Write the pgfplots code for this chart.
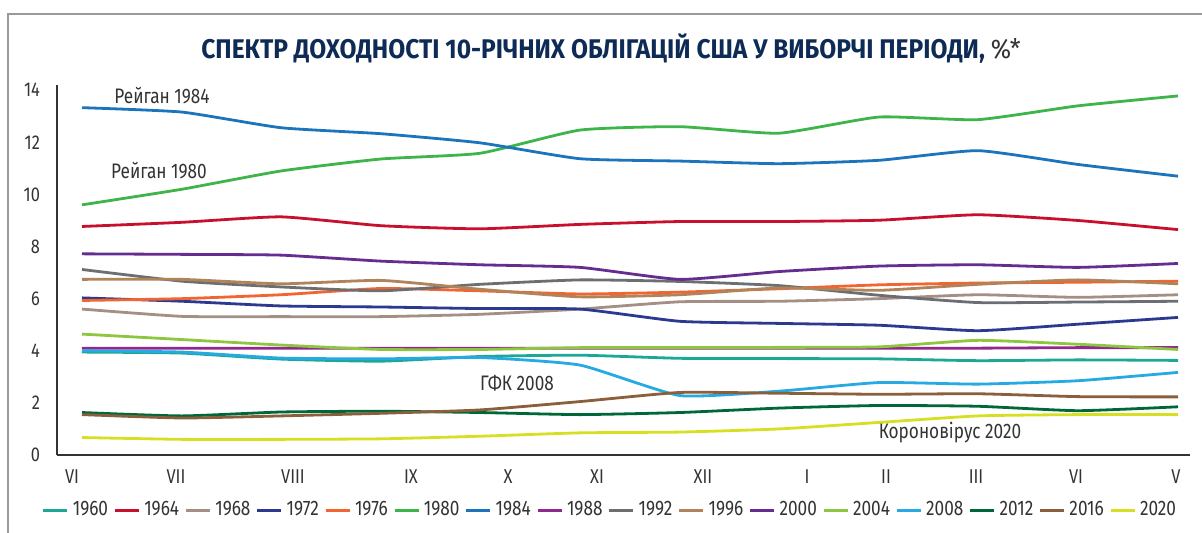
\documentclass[border=0pt]{standalone}
\usepackage{fontspec}
\setmainfont{Fira Sans}[FakeStretch=0.82]
\newfontfamily\titlefont{Fira Sans}[FakeStretch=0.91]
\usepackage{pgfplots}
\usepackage{pgfplotstable}
\pgfplotsset{compat=1.18}

\definecolor{c1960}{HTML}{1CA896}
\definecolor{c1964}{HTML}{C8102E}
\definecolor{c1968}{HTML}{A38F84}
\definecolor{c1972}{HTML}{2B3990}
\definecolor{c1976}{HTML}{F26531}
\definecolor{c1980}{HTML}{3DB54A}
\definecolor{c1984}{HTML}{1C75BC}
\definecolor{c1988}{HTML}{92278F}
\definecolor{c1992}{HTML}{6D6E71}
\definecolor{c1996}{HTML}{B0835A}
\definecolor{c2000}{HTML}{662D91}
\definecolor{c2004}{HTML}{8DC63F}
\definecolor{c2008}{HTML}{27AAE1}
\definecolor{c2012}{HTML}{006838}
\definecolor{c2016}{HTML}{8B5E3C}
\definecolor{c2020}{HTML}{D7DF23}
\definecolor{titleblue}{HTML}{0D2B55}
\definecolor{txt}{HTML}{333333}
\definecolor{framegray}{HTML}{9A9A9A}

% x = horizontal position of each month, y = yield in %
\pgfplotstableread{
x    a1960 a1964 a1968 a1972 a1976 a1980 a1984 a1988 a1992 a1996 a2000 a2004 a2008 a2012 a2016 a2020
82   3.95  8.77  5.60  6.03  5.93  9.60  13.33 4.10  7.12  6.74  7.72  4.64  4.00  1.63  1.55  0.67
182  3.91  8.93  5.32  5.90  6.00  10.20 13.16 4.10  6.67  6.74  7.70  4.43  3.95  1.50  1.42  0.60
281  3.68  9.14  5.31  5.72  6.15  10.90 12.56 4.10  6.45  6.57  7.67  4.22  3.72  1.65  1.50  0.60
381  3.60  8.80  5.31  5.68  6.39  11.36 12.33 4.10  6.30  6.70  7.44  4.05  3.69  1.68  1.60  0.62
480  3.78  8.68  5.40  5.62  6.30  11.58 11.98 4.10  6.55  6.36  7.30  4.05  3.74  1.63  1.73  0.72
580  3.83  8.85  5.60  5.60  6.18  12.47 11.37 4.10  6.72  6.07  7.20  4.12  3.45  1.55  2.05  0.85
680  3.71  8.96  5.88  5.13  6.25  12.60 11.28 4.10  6.66  6.15  6.74  4.12  2.28  1.63  2.40  0.88
779  3.70  8.96  5.90  5.05  6.38  12.35 11.18 4.10  6.50  6.41  7.04  4.13  2.45  1.80  2.37  1.00
879  3.69  9.01  6.00  4.98  6.53  12.97 11.31 4.10  6.13  6.32  7.25  4.15  2.78  1.90  2.33  1.25
978  3.62  9.22  6.15  4.77  6.60  12.87 11.68 4.10  5.85  6.55  7.30  4.40  2.72  1.87  2.35  1.50
1078 3.65  9.00  6.05  5.02  6.63  13.40 11.15 4.12  5.87  6.72  7.20  4.25  2.85  1.70  2.24  1.55
1178 3.63  8.65  6.15  5.28  6.67  13.78 10.70 4.12  5.90  6.57  7.35  4.05  3.17  1.85  2.23  1.55
}\yields

\begin{document}
\begin{tikzpicture}
\useasboundingbox (0pt,0pt) rectangle (601pt,266.5pt);
\draw[line width=1pt, framegray] (3.8pt,0pt) -- (3.8pt,259.5pt) -- (601pt,259.5pt);
\node[font=\fontsize{13.5}{16}\selectfont] at (305.5pt,242.5pt)
  {\textcolor{titleblue}{\titlefont\bfseries СПЕКТР ДОХОДНОСТІ 10-РІЧНИХ ОБЛІГАЦІЙ США У ВИБОРЧІ ПЕРІОДИ,}~\textcolor{txt}{\titlefont\%*}};
\begin{axis}[
    at={(28.5pt,39pt)}, anchor=south west,
    scale only axis, width=566.5pt, height=185pt,
    xmin=57, xmax=1190, ymin=0, ymax=14.2,
    axis x line=bottom, axis y line=left,
    axis line style={-, draw=txt, line width=0.8pt},
    xtick={72,176,293,411,508,597,703,807,886,976,1076,1176},
    xticklabels={VI,VII,VIII,IX,X,XI,XII,I,II,III,VI,V},
    ytick={0,2,...,14},
    major tick length=0pt,
    tick label style={font=\fontsize{10}{12}\selectfont, text=txt},
    /pgf/number format/assume math mode=true,
    xticklabel style={yshift=-4pt},
    yticklabel style={xshift=-5pt},
    legend columns=16,
    legend style={at={(0.489,-0.149)}, anchor=center, draw=none,
        font=\fontsize{10.5}{12}\selectfont, text=txt,
        /tikz/every even column/.append style={column sep=0.7pt}},
    legend image code/.code={\draw[#1] (0pt,0pt) -- (12pt,0pt);},
    every axis plot/.append style={line width=1.4pt, no markers, smooth, tension=0.3},
]
\addplot[c1960] table[y=a1960] {\yields}; \addlegendentry{1960}
\addplot[c1964] table[y=a1964] {\yields}; \addlegendentry{1964}
\addplot[c1968] table[y=a1968] {\yields}; \addlegendentry{1968}
\addplot[c1972] table[y=a1972] {\yields}; \addlegendentry{1972}
\addplot[c1976] table[y=a1976] {\yields}; \addlegendentry{1976}
\addplot[c1980] table[y=a1980] {\yields}; \addlegendentry{1980}
\addplot[c1984] table[y=a1984] {\yields}; \addlegendentry{1984}
\addplot[c1988] table[y=a1988] {\yields}; \addlegendentry{1988}
\addplot[c1992] table[y=a1992] {\yields}; \addlegendentry{1992}
\addplot[c1996] table[y=a1996] {\yields}; \addlegendentry{1996}
\addplot[c2000] table[y=a2000] {\yields}; \addlegendentry{2000}
\addplot[c2004] table[y=a2004] {\yields}; \addlegendentry{2004}
\addplot[c2008] table[y=a2008] {\yields}; \addlegendentry{2008}
\addplot[c2012] table[y=a2012] {\yields}; \addlegendentry{2012}
\addplot[c2016] table[y=a2016] {\yields}; \addlegendentry{2016}
\addplot[c2020] table[y=a2020] {\yields}; \addlegendentry{2020}
\node[txt, font=\fontsize{10.5}{12}\selectfont] at (axis cs:162,13.81) {Рейган 1984};
\node[txt, font=\fontsize{10.5}{12}\selectfont] at (axis cs:159,10.93) {Рейган 1980};
\node[txt, font=\fontsize{10.5}{12}\selectfont] at (axis cs:517,2.76) {ГФК 2008};
\node[txt, font=\fontsize{10.5}{12}\selectfont] at (axis cs:950,0.88) {Короновірус 2020};
\end{axis}
\end{tikzpicture}
\end{document}
